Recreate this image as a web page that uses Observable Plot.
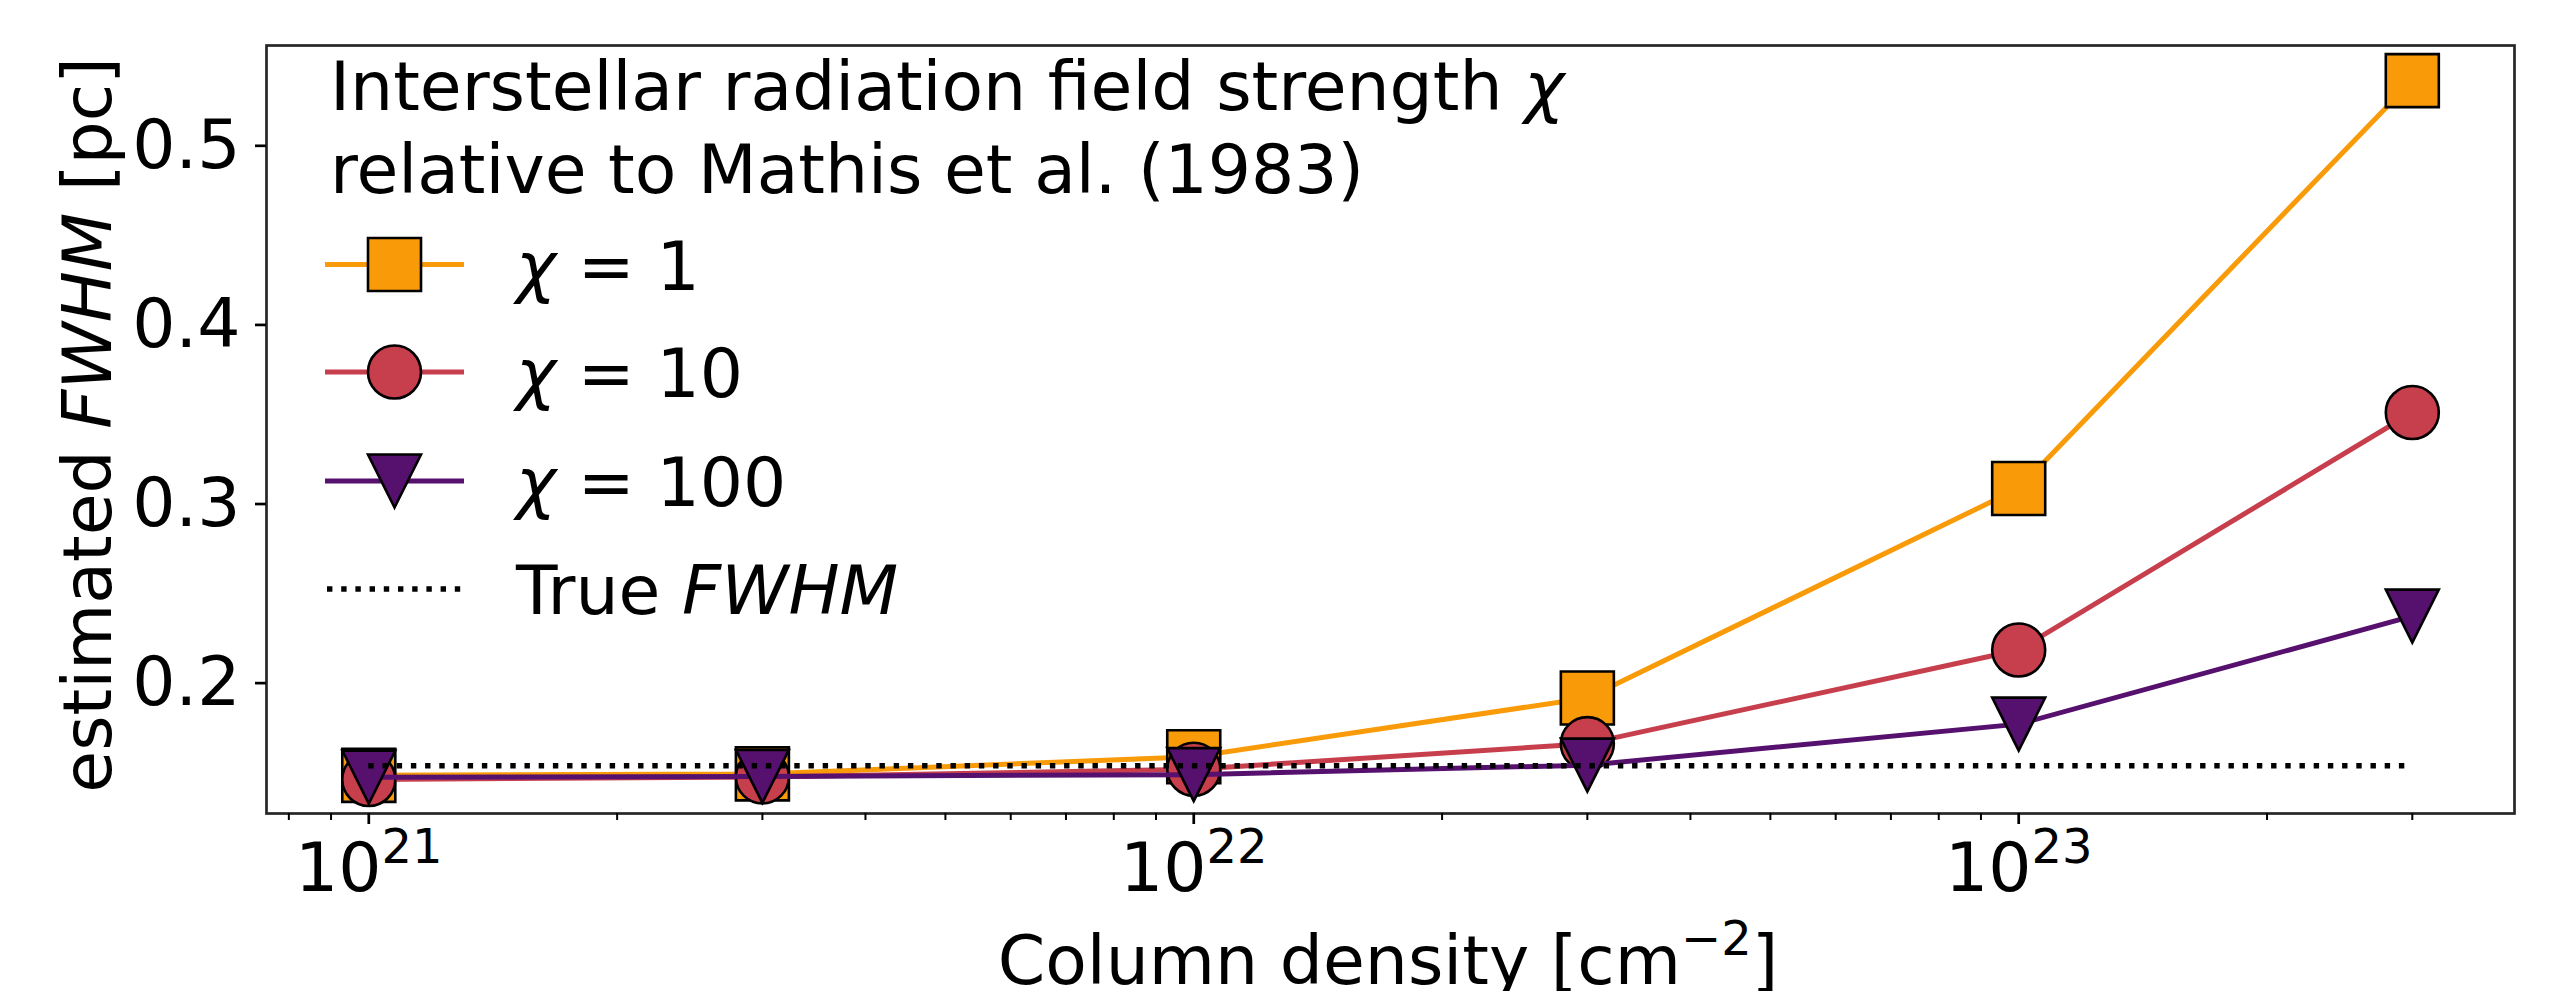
<!DOCTYPE html>
<html>
<head>
<meta charset="utf-8">
<script src="https://cdn.jsdelivr.net/npm/d3@7"></script>
<script src="https://cdn.jsdelivr.net/npm/@observablehq/plot@0.6"></script>
<style>
  html, body { margin: 0; padding: 0; background: #fff; }
  #chart svg { display: block; }
</style>
</head>
<body>
<div id="chart"></div>
<script>
// ---- data ----
const columnDensity = [1e21, 3e21, 1e22, 3e22, 1e23, 3e23];
const fwhmChi1   = [0.1446, 0.1454, 0.1550, 0.1878, 0.3048, 0.5325];
const fwhmChi10  = [0.1423, 0.1437, 0.1480, 0.1623, 0.2146, 0.3472];
const fwhmChi100 = [0.1436, 0.1440, 0.1450, 0.1503, 0.1732, 0.2335];
const trueFwhm = 0.15;

const seriesLabels = ["1", "10", "100"];
const seriesColors = ["#f99b08", "#c73e4c", "#56106e"];
const xMajorTicks = [1e21, 1e22, 1e23];
const xMinorMultipliers = [2, 3, 4, 5, 6, 7, 8, 9];
const yTicks = [0.2, 0.3, 0.4, 0.5];
const yTickLabels = ["0.2", "0.3", "0.4", "0.5"];
const legendTitleLine1 = "Interstellar radiation field strength ";
const legendTitleLine2 = "relative to Mathis et al. (1983)";
const xLabelText = "Column density [cm";
const yLabelParts = ["estimated ", "FWHM", " [pc]"];

// ---- layout ----
const W = 2550, H = 991;
const FONT = "DejaVu Sans";
const FS = 68;
const xDomain = [10 ** 20.876, 10 ** 23.601];
const yDomain = [0.1233, 0.5521];

const minorTicks = [];
for (const e of [20, 21, 22, 23]) for (const m of xMinorMultipliers) {
  const v = m * 10 ** e;
  if (v > xDomain[0] && v < xDomain[1]) minorTicks.push(v);
}

// custom marker symbols (matplotlib-like: same extent for all)
const squareSym = {draw(ctx, size) { const r = Math.sqrt(size / Math.PI);
  ctx.moveTo(-r, -r); ctx.lineTo(r, -r); ctx.lineTo(r, r); ctx.lineTo(-r, r); ctx.closePath(); }};
const circleSym = {draw(ctx, size) { const r = Math.sqrt(size / Math.PI);
  ctx.moveTo(r, 0); ctx.arc(0, 0, r, 0, 2 * Math.PI); ctx.closePath(); }};
const triDownSym = {draw(ctx, size) { const r = Math.sqrt(size / Math.PI);
  ctx.moveTo(0, r); ctx.lineTo(-r, -r); ctx.lineTo(r, -r); ctx.closePath(); }};
const symbols = [squareSym, circleSym, triDownSym];

const seriesValues = [fwhmChi1, fwhmChi10, fwhmChi100];
const rows = seriesValues.map(vals => columnDensity.map((x, i) => ({x, y: vals[i]})));

const R = 26.5, LW = 5, EW = 2.6;
const dotDash = "5.4,8.8";

const marks = [];
seriesValues.forEach((_, k) => {
  marks.push(Plot.line(rows[k], {x: "x", y: "y", stroke: seriesColors[k], strokeWidth: LW}));
  marks.push(Plot.dot(rows[k], {x: "x", y: "y", r: R, symbol: symbols[k], fill: seriesColors[k], stroke: "black", strokeWidth: EW}));
});
marks.push(Plot.ruleY([trueFwhm], {x1: columnDensity[0], x2: columnDensity[columnDensity.length - 1], stroke: "black", strokeWidth: 5.4, strokeDasharray: dotDash}));
marks.push(Plot.frame({stroke: "#262626", strokeWidth: 2.7}));
marks.push(Plot.axisY({ticks: yTicks, tickFormat: d => yTickLabels[yTicks.indexOf(d)], tickSize: 11, tickPadding: 15, strokeWidth: 2.7, fontSize: FS, dy: 7, label: null, fill: "black"}));
marks.push(Plot.axisX({ticks: xMajorTicks, tickFormat: d => "10^" + Math.round(Math.log10(d)), tickSize: 11, tickPadding: 18, strokeWidth: 2.7, fontSize: FS, label: null, fill: "black"}));
marks.push(Plot.axisX({ticks: minorTicks, tickFormat: () => "", tickSize: 7, strokeWidth: 2.0, label: null}));

const plot = Plot.plot({
  width: W, height: H,
  marginLeft: 266, marginRight: 36, marginTop: 45, marginBottom: 178,
  style: {fontFamily: FONT, fontSize: FS + "px", background: "#fff", color: "black"},
  x: {type: "log", domain: xDomain, label: null},
  y: {domain: yDomain, label: null},
  marks
});
document.getElementById("chart").append(plot);

const svg = d3.select(plot);

// superscript x tick labels
svg.selectAll("text").filter(function () { return this.textContent.includes("^"); }).each(function () {
  const [base, exp] = this.textContent.split("^");
  const t = d3.select(this);
  t.text(null);
  t.append("tspan").text(base);
  t.append("tspan").attr("font-size", 48).attr("dy", -28).text(exp);
});

// axis labels
const yl = svg.append("text").attr("font-family", FONT).attr("font-size", FS).attr("fill", "black")
  .attr("text-anchor", "middle").attr("transform", "translate(111,425) rotate(-90)");
yl.append("tspan").text(yLabelParts[0]);
yl.append("tspan").attr("font-style", "italic").text(yLabelParts[1]);
yl.append("tspan").text(yLabelParts[2]);

const xl = svg.append("text").attr("font-family", FONT).attr("font-size", FS).attr("fill", "black")
  .attr("text-anchor", "middle").attr("x", 1388).attr("y", 984);
xl.append("tspan").text(xLabelText);
xl.append("tspan").attr("font-size", 48).attr("dy", -29).text("\u22122");
xl.append("tspan").attr("dy", 29).text("]");

// legend
const lg = svg.append("g").attr("font-family", FONT).attr("font-size", FS).attr("fill", "black")
  .attr("text-anchor", "start");
const t1 = lg.append("text").attr("x", 330).attr("y", 110);
t1.append("tspan").text(legendTitleLine1);
t1.append("tspan").attr("font-style", "italic").text("\u03c7");
lg.append("text").attr("x", 330).attr("y", 193).text(legendTitleLine2);

const entryY = [264.5, 372, 481, 589];
const sx1 = 325, sx2 = 464, smx = (sx1 + sx2) / 2, textX = 516;
seriesLabels.forEach((lab, k) => {
  const cy = entryY[k];
  lg.append("line").attr("x1", sx1).attr("x2", sx2).attr("y1", cy).attr("y2", cy)
    .attr("stroke", seriesColors[k]).attr("stroke-width", LW);
  const p = d3.path();
  symbols[k].draw(p, Math.PI * R * R);
  lg.append("path").attr("d", p.toString()).attr("transform", `translate(${smx},${cy})`)
    .attr("fill", seriesColors[k]).attr("stroke", "black").attr("stroke-width", EW);
  const tx = lg.append("text").attr("x", textX).attr("y", cy + 25);
  tx.append("tspan").attr("font-style", "italic").text("\u03c7");
  tx.append("tspan").text(" = " + lab);
});
{
  const cy = entryY[3];
  lg.append("line").attr("x1", sx1 + 2).attr("x2", sx2).attr("y1", cy).attr("y2", cy)
    .attr("stroke", "black").attr("stroke-width", 5.4).attr("stroke-dasharray", dotDash);
  const tx = lg.append("text").attr("x", textX).attr("y", cy + 25);
  tx.append("tspan").text("True ");
  tx.append("tspan").attr("font-style", "italic").text("FWHM");
}
</script>
</body>
</html>
